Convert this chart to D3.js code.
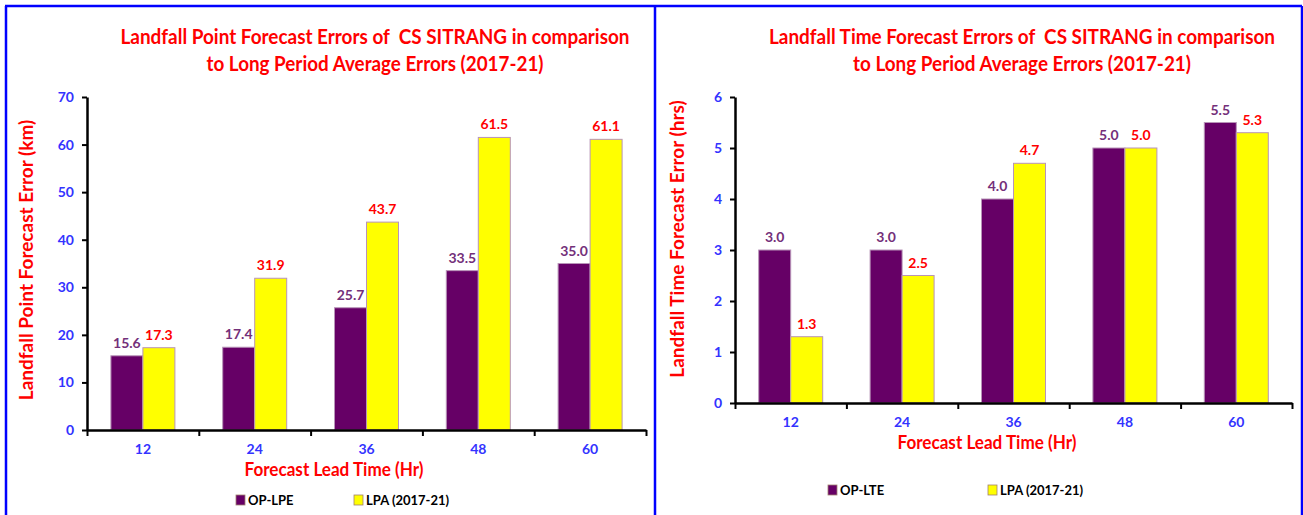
<!DOCTYPE html>
<html>
<head>
<meta charset="utf-8">
<script src="https://cdn.jsdelivr.net/npm/d3@7"></script>
<style>
  body { margin: 0; background: #fff; }
  text { font-family: Lato, "Open Sans", sans-serif; font-weight: bold; white-space: pre; }
</style>
</head>
<body>
<div id="chart"></div>
<script>
const leadTimes = ['12', '24', '36', '48', '60']
const pointOp = [15.6, 17.4, 25.7, 33.5, 35.0]
const pointLpa = [17.3, 31.9, 43.7, 61.5, 61.1]
const timeOp = [3.0, 3.0, 4.0, 5.0, 5.5]
const timeLpa = [1.3, 2.5, 4.7, 5.0, 5.3]
const pointTicks = [0, 10, 20, 30, 40, 50, 60, 70]
const timeTicks = [0, 1, 2, 3, 4, 5, 6]

const W = 1303
const H = 515
const purple = '#660066'
const yellow = '#ffff00'
const blue = '#3333ff'
const red = '#ff0000'

const svg = d3.select('#chart').append('svg')
  .attr('width', W)
  .attr('height', H)

// blue frame
const frame = svg.append('g').attr('stroke', '#0000ff').attr('stroke-width', 2.5)
frame.append('line').attr('x1', 5).attr('x2', 1302).attr('y1', 6).attr('y2', 6)
frame.append('line').attr('x1', 6).attr('x2', 6).attr('y1', 6).attr('y2', H)
frame.append('line').attr('x1', 655).attr('x2', 655).attr('y1', 6).attr('y2', H)
frame.append('line').attr('x1', 1302).attr('x2', 1302).attr('y1', 6).attr('y2', H)

// squeeze a text to a given width only if it is wider than that
const fitTo = (sel, len) => {
  const n = sel.node().getComputedTextLength()
  if (n > len) sel.attr('textLength', len).attr('lengthAdjust', 'spacingAndGlyphs')
}

const drawPanel = cfg => {
  const g = svg.append('g')

  const x = d3.scaleBand().domain(leadTimes).range([cfg.x0, cfg.x1])
  const xEdge = d3.scaleLinear().domain([0, leadTimes.length]).range([cfg.x0, cfg.x1])
  const y = d3.scaleLinear().domain([0, d3.max(cfg.ticks)]).range([cfg.yb, cfg.yt])
  const barW = 32

  // titles
  cfg.title.forEach((t, i) => {
    const tt = g.append('text')
      .attr('x', cfg.titleX)
      .attr('y', 44 + i * 27)
      .attr('text-anchor', 'middle')
      .attr('fill', red)
      .attr('font-size', 20)
      .text(t)
    fitTo(tt, cfg.titleLen[i])
  })

  // bars
  const series = [
    { vals: cfg.op, color: purple, label: '#74307a', off: -barW },
    { vals: cfg.lpa, color: yellow, label: red, off: 0 }
  ]
  series.forEach(s => {
    g.selectAll(null)
      .data(leadTimes)
      .enter().append('rect')
      .attr('x', (d, i) => x(d) + x.bandwidth() / 2 + s.off)
      .attr('y', (d, i) => y(s.vals[i]))
      .attr('width', barW)
      .attr('height', (d, i) => cfg.yb - y(s.vals[i]))
      .attr('fill', s.color)
      .attr('stroke', '#b894b8')
      .attr('stroke-width', 1)
    g.selectAll(null)
      .data(leadTimes)
      .enter().append('text')
      .attr('x', (d, i) => x(d) + x.bandwidth() / 2 + s.off + barW / 2)
      .attr('y', (d, i) => y(s.vals[i]) - 8)
      .attr('text-anchor', 'middle')
      .attr('fill', s.label)
      .attr('font-size', 14)
      .text((d, i) => s.vals[i].toFixed(1))
  })

  // y axis
  const yAxis = g.append('g')
    .attr('transform', 'translate(' + cfg.x0 + ',0)')
    .call(d3.axisLeft(y).tickValues(cfg.ticks).tickFormat(d3.format('d')).tickSize(5).tickSizeOuter(0).tickPadding(8))
  yAxis.select('.domain').attr('stroke', '#000').attr('stroke-width', 2.5)
  yAxis.selectAll('.tick line').attr('stroke', '#000').attr('stroke-width', 2)
  yAxis.selectAll('.tick text').attr('fill', blue).attr('font-size', 14)
    .style('font-family', 'Lato, sans-serif').style('font-weight', 'bold')

  // x axis: edge ticks
  const xTicks = g.append('g')
    .attr('transform', 'translate(0,' + cfg.yb + ')')
    .call(d3.axisBottom(xEdge).tickValues(d3.range(leadTimes.length + 1)).tickFormat('').tickSize(6).tickSizeOuter(0))
  xTicks.select('.domain').attr('stroke', '#000').attr('stroke-width', 2.5)
  xTicks.selectAll('.tick line').attr('stroke', '#000').attr('stroke-width', 2)

  // x axis: category labels
  const xLab = g.append('g')
    .attr('transform', 'translate(0,' + cfg.yb + ')')
    .call(d3.axisBottom(x).tickSize(0).tickPadding(14))
  xLab.select('.domain').remove()
  xLab.selectAll('.tick text').attr('fill', blue).attr('font-size', 14)
    .style('font-family', 'Lato, sans-serif').style('font-weight', 'bold')

  // axis titles
  const xt = g.append('text')
    .attr('x', cfg.xTitleX)
    .attr('y', cfg.yb + 46)
    .attr('text-anchor', 'middle')
    .attr('fill', red)
    .attr('font-size', 19)
    .text('Forecast Lead Time (Hr)')
  fitTo(xt, 179)

  const yt = g.append('text')
    .attr('transform', 'translate(' + cfg.yTitleX + ',' + cfg.yTitleY + ') rotate(-90)')
    .attr('text-anchor', 'middle')
    .attr('fill', red)
    .attr('font-size', 19)
    .text(cfg.yTitle)
  fitTo(yt, cfg.yTitleLen)

  // legend
  const legend = [
    { name: cfg.opName, color: purple, x: cfg.legX[0] },
    { name: 'LPA (2017-21)', color: yellow, x: cfg.legX[1] }
  ]
  legend.forEach(l => {
    g.append('rect')
      .attr('x', l.x)
      .attr('y', cfg.legY - 5)
      .attr('width', 9)
      .attr('height', 10)
      .attr('fill', l.color)
      .attr('stroke', '#a08070')
      .attr('stroke-width', 0.8)
    g.append('text')
      .attr('x', l.x + 12)
      .attr('y', cfg.legY + 5)
      .attr('fill', '#000')
      .attr('font-size', 13)
      .text(l.name)
  })
}

drawPanel({
  x0: 87, x1: 646, yb: 430, yt: 97,
  ticks: pointTicks, op: pointOp, lpa: pointLpa,
  title: ['Landfall Point Forecast Errors of  CS SITRANG in comparison', 'to Long Period Average Errors (2017-21)'],
  titleX: 375, titleLen: [509, 337],
  xTitleX: 334,
  yTitle: 'Landfall Point Forecast Error (km)', yTitleX: 33, yTitleY: 260, yTitleLen: 294,
  opName: 'OP-LPE', legX: [236, 354], legY: 500
})

drawPanel({
  x0: 735, x1: 1292, yb: 403, yt: 97,
  ticks: timeTicks, op: timeOp, lpa: timeLpa,
  title: ['Landfall Time Forecast Errors of  CS SITRANG in comparison', 'to Long Period Average Errors (2017-21)'],
  titleX: 1022, titleLen: [506, 338],
  xTitleX: 987,
  yTitle: 'Landfall Time Forecast Error (hrs)', yTitleX: 684, yTitleY: 239, yTitleLen: 288,
  opName: 'OP-LTE', legX: [828, 988], legY: 490
})
</script>
</body>
</html>
